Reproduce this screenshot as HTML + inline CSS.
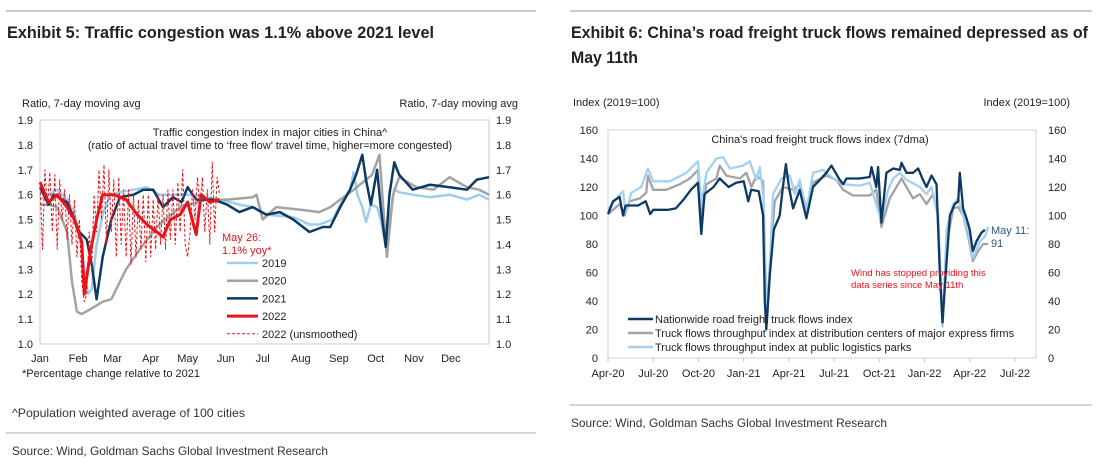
<!DOCTYPE html>
<html><head><meta charset="utf-8">
<style>
body{margin:0;background:#fff;width:1098px;height:470px;overflow:hidden;font-family:"Liberation Sans",Arial,sans-serif;}
.t{font-family:"Liberation Sans Narrow","Liberation Sans",sans-serif;}
svg{position:absolute;left:0;top:0}
</style></head>
<body>
<svg id="svg" width="1098" height="470" viewBox="0 0 1098 470">
<line x1="6" y1="11" x2="536" y2="11" stroke="#999" stroke-width="1"/>
<line x1="570" y1="11" x2="1092" y2="11" stroke="#999" stroke-width="1"/>
<text x="7" y="38" font-size="16.5" font-weight="bold" fill="#222" class="t" font-family="Liberation Sans Narrow, Liberation Sans, sans-serif" textLength="427" lengthAdjust="spacingAndGlyphs">Exhibit 5: Traffic congestion was 1.1% above 2021 level</text>
<text x="571" y="38" font-size="16.5" font-weight="bold" fill="#222" font-family="Liberation Sans Narrow, Liberation Sans, sans-serif" textLength="517" lengthAdjust="spacingAndGlyphs">Exhibit 6: China’s road freight truck flows remained depressed as of</text>
<text x="571" y="63" font-size="16.5" font-weight="bold" fill="#222" font-family="Liberation Sans Narrow, Liberation Sans, sans-serif" textLength="67" lengthAdjust="spacingAndGlyphs">May 11th</text>
<text x="12" y="417" font-size="12" fill="#333" font-family="Liberation Sans Narrow, Liberation Sans, sans-serif" textLength="233" lengthAdjust="spacingAndGlyphs">^Population weighted average of 100 cities</text>
<line x1="6" y1="433" x2="536" y2="433" stroke="#aaa"/>
<text x="12" y="455" font-size="12" fill="#333" font-family="Liberation Sans Narrow, Liberation Sans, sans-serif" textLength="316" lengthAdjust="spacingAndGlyphs">Source: Wind, Goldman Sachs Global Investment Research</text>
<line x1="570" y1="405" x2="1092" y2="405" stroke="#aaa"/>
<text x="571" y="427" font-size="12" fill="#333" font-family="Liberation Sans Narrow, Liberation Sans, sans-serif" textLength="316" lengthAdjust="spacingAndGlyphs">Source: Wind, Goldman Sachs Global Investment Research</text>
<g id="c1"></g><g id="c2"></g>
</svg>
<script>
// ===== Chart 1 data (x = day of year, y = ratio) =====
const c1Months = ["Jan","Feb","Mar","Apr","May","Jun","Jul","Aug","Sep","Oct","Nov","Dec"];
const c1Ticks = [1.0,1.1,1.2,1.3,1.4,1.5,1.6,1.7,1.8,1.9];
const s2019 = [[0,1.58],[7,1.6],[14,1.62],[22,1.58],[28,1.52],[32,1.45],[36,1.3],[39,1.2],[42,1.22],[46,1.4],[51,1.52],[57,1.6],[65,1.61],[76,1.62],[87,1.63],[97,1.6],[108,1.6],[120,1.6],[135,1.59],[146,1.58],[162,1.56],[173,1.55],[184,1.52],[206,1.51],[219,1.48],[227,1.48],[238,1.5],[244,1.56],[252,1.62],[255,1.69],[258,1.6],[262,1.55],[265,1.49],[269,1.56],[274,1.55],[277,1.5],[281,1.4],[284,1.5],[288,1.62],[292,1.61],[303,1.6],[317,1.59],[333,1.6],[347,1.58],[357,1.6],[365,1.58]];
const s2020 = [[0,1.56],[7,1.56],[14,1.55],[22,1.45],[26,1.25],[30,1.13],[34,1.12],[41,1.14],[51,1.17],[58,1.18],[61,1.21],[70,1.3],[84,1.4],[97,1.48],[114,1.55],[135,1.58],[152,1.58],[173,1.59],[176,1.6],[181,1.5],[192,1.55],[211,1.54],[227,1.53],[236,1.55],[244,1.58],[255,1.62],[265,1.66],[270,1.68],[276,1.76],[279,1.55],[282,1.35],[287,1.6],[292,1.67],[306,1.63],[320,1.62],[333,1.67],[347,1.63],[357,1.62],[365,1.6]];
const s2021 = [[0,1.63],[7,1.56],[11,1.6],[22,1.57],[32,1.45],[38,1.42],[42,1.32],[46,1.18],[51,1.35],[58,1.5],[65,1.59],[76,1.6],[84,1.62],[92,1.62],[100,1.55],[108,1.59],[115,1.57],[120,1.63],[127,1.58],[141,1.58],[152,1.56],[162,1.53],[173,1.55],[184,1.52],[195,1.53],[206,1.5],[219,1.45],[230,1.47],[236,1.47],[244,1.55],[252,1.62],[257,1.68],[262,1.76],[265,1.66],[269,1.56],[274,1.7],[277,1.55],[281,1.39],[284,1.6],[288,1.73],[292,1.68],[303,1.62],[317,1.64],[333,1.63],[347,1.62],[355,1.66],[365,1.67]];
const s2022 = [[0,1.65],[7,1.57],[14,1.6],[22,1.55],[28,1.5],[34,1.41],[36,1.2],[41,1.37],[46,1.5],[51,1.6],[60,1.6],[70,1.58],[79,1.52],[87,1.48],[95,1.45],[100,1.43],[106,1.5],[114,1.52],[120,1.57],[127,1.44],[131,1.6],[138,1.57],[146,1.58]];
const s2022u = [[0,1.65],[2,1.38],[4,1.7],[6,1.55],[8,1.69],[10,1.45],[12,1.68],[14,1.38],[16,1.66],[18,1.5],[20,1.62],[22,1.42],[24,1.6],[26,1.4],[28,1.58],[30,1.35],[32,1.5],[34,1.25],[36,1.17],[38,1.2],[40,1.45],[42,1.3],[44,1.6],[46,1.45],[48,1.7],[50,1.5],[52,1.72],[54,1.4],[56,1.7],[58,1.45],[60,1.66],[62,1.35],[64,1.67],[66,1.4],[68,1.62],[70,1.35],[72,1.62],[74,1.32],[76,1.6],[78,1.35],[80,1.58],[82,1.38],[84,1.6],[86,1.33],[88,1.6],[90,1.35],[92,1.58],[94,1.38],[96,1.6],[98,1.4],[100,1.6],[102,1.38],[104,1.62],[106,1.42],[108,1.62],[110,1.4],[112,1.65],[114,1.45],[116,1.7],[118,1.4],[120,1.35],[122,1.45],[124,1.62],[126,1.5],[128,1.67],[130,1.55],[132,1.67],[134,1.45],[136,1.62],[138,1.4],[140,1.73],[142,1.45],[144,1.67],[146,1.6]];

// ===== Chart 2 data (x = months since Apr-2020, y = index) =====
const c2Quarters = ["Apr-20","Jul-20","Oct-20","Jan-21","Apr-21","Jul-21","Oct-21","Jan-22","Apr-22","Jul-22"];
const c2Ticks = [0,20,40,60,80,100,120,140,160];
const sNation = [[0,101],[0.33,110],[0.77,113],[1.0,100],[1.17,107],[2.0,107],[2.5,110],[2.8,101],[3.0,104],[4.0,104],[4.5,105],[5.0,111],[5.5,118],[5.97,123],[6.19,87],[6.4,115],[7.0,120],[7.41,126],[8.0,120],[8.5,123],[9.0,124],[9.3,110],[9.5,118],[10.0,117],[10.29,100],[10.4,40],[10.5,20],[10.75,60],[11.0,90],[11.39,100],[11.6,120],[11.8,136],[12.0,120],[12.28,105],[12.72,118],[13.16,98],[13.6,120],[14.05,125],[14.49,130],[14.82,135],[15.38,125],[15.6,122],[15.82,126],[16.7,126],[17.37,127],[17.48,134],[17.8,120],[17.92,134],[18.14,95],[18.47,130],[18.92,133],[19.36,132],[19.47,137],[19.8,130],[20.24,130],[20.58,133],[20.9,125],[21.13,120],[21.46,128],[21.79,122],[22.01,60],[22.19,25],[22.41,60],[22.68,100],[23.0,108],[23.23,110],[23.34,130],[23.56,105],[23.78,98],[24.0,90],[24.2,75],[24.45,82],[24.78,88],[25.0,90]];
const sExpress = [[0,101],[0.77,108],[1.1,100],[1.44,110],[2.1,112],[2.54,116],[2.65,128],[3.0,118],[3.87,118],[4.76,122],[5.42,126],[5.97,132],[6.19,97],[6.53,122],[7.19,126],[7.41,135],[7.85,128],[8.74,126],[9.18,130],[9.51,120],[9.85,128],[10.29,124],[10.5,30],[11.06,110],[11.6,120],[12.28,118],[12.72,122],[13.16,105],[13.6,123],[14.49,128],[15.15,125],[15.6,118],[16.26,114],[17.37,114],[17.8,118],[18.14,92],[18.69,112],[19.14,120],[19.47,126],[19.8,120],[20.24,112],[20.69,115],[21.13,108],[21.57,115],[21.9,100],[22.19,22],[22.46,80],[22.9,105],[23.23,106],[23.56,100],[23.9,85],[24.2,68],[24.56,75],[24.89,80],[25.22,80]];
const sParks = [[0,104],[0.55,112],[1.0,117],[1.17,102],[1.55,116],[2.2,120],[2.65,133],[3.0,124],[4.1,124],[5.2,130],[5.97,138],[6.19,108],[6.53,130],[7.19,140],[7.63,141],[8.08,133],[8.96,135],[9.4,138],[9.85,125],[10.07,134],[10.33,110],[10.55,25],[10.95,115],[11.5,126],[12.06,128],[12.39,115],[12.72,125],[13.16,103],[13.6,130],[14.27,132],[14.93,126],[15.6,122],[16.7,121],[17.37,123],[18.14,96],[18.58,118],[18.92,126],[19.36,130],[19.8,125],[20.69,120],[21.13,115],[21.46,120],[21.9,100],[22.19,22],[22.46,90],[22.9,108],[23.23,112],[23.56,100],[23.9,88],[24.2,70],[24.67,82],[25.0,85],[25.22,92]];

const NS='http://www.w3.org/2000/svg';
function mk(parent,tag,attrs,txt){const e=document.createElementNS(NS,tag);for(const k in attrs)e.setAttribute(k,attrs[k]);if(txt!==undefined)e.textContent=txt;parent.appendChild(e);return e;}
function pathD(arr,fx,fy){return arr.map((p,i)=>(i?'L':'M')+fx(p[0]).toFixed(1)+','+fy(p[1]).toFixed(1)).join(' ');}

// ---- Chart 1 ----
(function(){
const g=document.getElementById('c1');
const L=40,R=489,T=120,B=344;
const fx=d=>L+d/365*(R-L);
const fy=v=>B-(v-1.0)/0.9*(B-T);
const fr=mk(g,'rect',{x:L,y:T,width:R-L,height:B-T,fill:'none',stroke:'#c8c8c8','stroke-width':1});

c1Ticks.forEach(v=>{
 const a=mk(g,'text',{x:33,y:fy(v)+4,'font-size':11,'text-anchor':'end',fill:'#222'},v.toFixed(1));
 
 const b=mk(g,'text',{x:496,y:fy(v)+4,'font-size':11,fill:'#222'},v.toFixed(1));
 
});
const cumDays=[0,31,59,90,120,151,181,212,243,273,304,334];
c1Months.forEach((m,i)=>{
 const t=mk(g,'text',{x:fx(cumDays[i]),y:362,'font-size':11,'text-anchor':'middle',fill:'#222'},m);
 
});
[['Ratio, 7-day moving avg',22,107,'start','y-axis-title-left'],['Ratio, 7-day moving avg',518,107,'end','y-axis-title-right'],['*Percentage change relative to 2021',22,377,'start','chart1-footnote'],['Traffic congestion index in major cities in China^',270,136,'middle','chart1-title-line1'],['(ratio of actual travel time to ‘free flow’ travel time, higher=more congested)',270,149,'middle','chart1-title-line2']].forEach(a=>{
 const t=mk(g,'text',{x:a[1],y:a[2],'font-size':11,'text-anchor':a[3],fill:'#222'},a[0]);
 
});
const series=[[s2019,'#9fcdee',2.5,'','line-2019'],[s2020,'#a3a3a3',2.5,'','line-2020'],[s2021,'#0c3a63',2.5,'','line-2021'],[s2022u,'#e8141b',1,'3,2','line-2022-unsmoothed'],[s2022,'#e8141b',3,'','line-2022']];
series.forEach(s=>{
 const p=mk(g,'path',{d:pathD(s[0],fx,fy),fill:'none',stroke:s[1],'stroke-width':s[2],'stroke-dasharray':s[3],'stroke-linejoin':'round'});
 
});
const t1=mk(g,'text',{x:222,y:241,'font-size':11,fill:'#e8141b'},'May 26:');

const t2=mk(g,'text',{x:222,y:254,'font-size':11,fill:'#e8141b'},'1.1% yoy*');

const leg=[['2019','#9fcdee',2.5,''],['2020','#a3a3a3',2.5,''],['2021','#0c3a63',2.5,''],['2022','#e8141b',3,''],['2022 (unsmoothed)','#e8141b',1,'3,2']];
leg.forEach((l,i)=>{
 const y=263+i*17.7;
 const ln=mk(g,'line',{x1:227,x2:258,y1:y,y2:y,stroke:l[1],'stroke-width':l[2],'stroke-dasharray':l[3]});
 
 const tx=mk(g,'text',{x:262,y:y+4,'font-size':11,fill:'#222'},l[0]);
 
});
})();

// ---- Chart 2 ----
(function(){
const g=document.getElementById('c2');
const L=608,R=1036,T=130,B=358;
const fx=m=>L+m*(1015-608)/27;
const fy=v=>B-v/160*(B-T);
const fr=mk(g,'rect',{x:L,y:T,width:R-L,height:B-T,fill:'none',stroke:'#d0d0d0','stroke-width':1});

c2Ticks.forEach(v=>{
 const a=mk(g,'text',{x:598,y:fy(v)+4,'font-size':11,'text-anchor':'end',fill:'#222'},String(v));
 
 const b=mk(g,'text',{x:1048,y:fy(v)+4,'font-size':11,fill:'#222'},String(v));
 
});
c2Quarters.forEach((q,i)=>{
 const t=mk(g,'text',{x:fx(i*3),y:377,'font-size':11,'text-anchor':'middle',fill:'#222'},q);
 
 const tk=mk(g,'line',{x1:fx(i*3),x2:fx(i*3),y1:B,y2:B+4,stroke:'#c8c8c8'});
 
});
[['Index (2019=100)',573,106,'start','y-axis-title-left'],['Index (2019=100)',1070,106,'end','y-axis-title-right'],["China's road freight truck flows index (7dma)",820,143,'middle','chart2-title']].forEach(a=>{
 const t=mk(g,'text',{x:a[1],y:a[2],'font-size':11,'text-anchor':a[3],fill:'#222'},a[0]);
 
});
const series=[[sExpress,'#a3a3a3','line-express-firms'],[sParks,'#a6d0f0','line-logistics-parks'],[sNation,'#0c3a63','line-nationwide']];
series.forEach(s=>{
 const p=mk(g,'path',{d:pathD(s[0],fx,fy),fill:'none',stroke:s[1],'stroke-width':2.3,'stroke-linejoin':'round'});
 
});
const a1=mk(g,'text',{x:991,y:234,'font-size':11,fill:'#2d5b86'},'May 11:');

const a2=mk(g,'text',{x:991,y:247,'font-size':11,fill:'#2d5b86'},'91');

const n1=mk(g,'text',{x:851,y:276,'font-size':9.5,fill:'#e8141b'},'Wind has stopped providing this');

const n2=mk(g,'text',{x:851,y:288,'font-size':9.5,fill:'#e8141b'},'data series since May 11th');

const leg=[['Nationwide road freight truck flows index','#0c3a63'],['Truck flows throughput index at distribution centers of major express firms','#a3a3a3'],['Truck flows throughput index at public logistics parks','#a6d0f0']];
leg.forEach((l,i)=>{
 const y=319+i*14;
 const ln=mk(g,'line',{x1:628,x2:653,y1:y,y2:y,stroke:l[1],'stroke-width':2.5});
 
 const tx=mk(g,'text',{x:655,y:y+4,'font-size':11,fill:'#222'},l[0]);
 
});
})();
</script>
</body></html>
